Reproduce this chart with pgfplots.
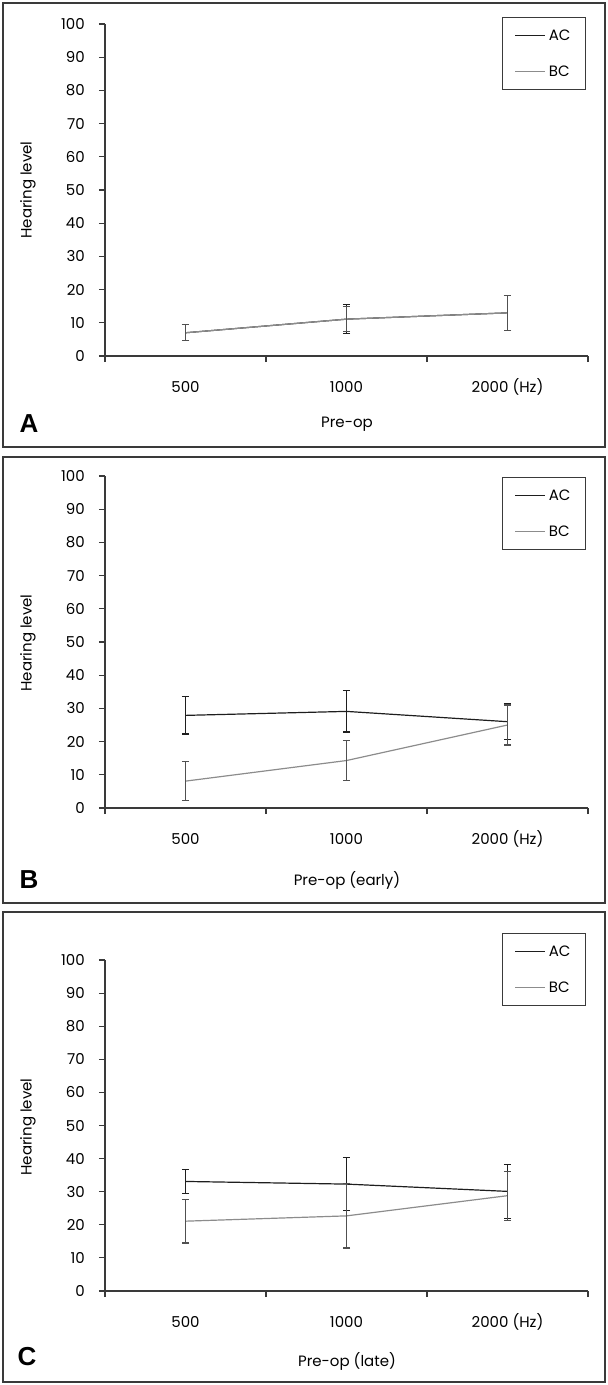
\documentclass[border=0pt]{standalone}
\usepackage{fontspec}
\setmainfont{Poppins}
\newfontfamily\letterfont{Liberation Sans}
\usepackage{pgfplots}
\pgfplotsset{compat=1.18}

\definecolor{acc}{HTML}{1E1E1E}
\definecolor{bcc}{HTML}{8C8C8C}
\definecolor{bce}{HTML}{505050}
\definecolor{axc}{HTML}{3A3A3A}
\newcommand\fs{\fontsize{15}{18}\selectfont}

\pgfplotsset{
  panel/.style={
    scale only axis, width=483pt,
    xmin=0, xmax=3, ymin=0, ymax=100,
    axis x line=bottom, axis y line=left,
    axis line style={-, axc, line width=1.2pt},
    tick align=outside, major tick length=6pt,
    tick style={axc, line width=1.1pt},
    ytick={0,10,...,100},
    xtick={0,1,2,3}, xticklabels={},
    extra x ticks={0.5,1.5,2.5},
    extra x tick labels={500,1000,2000 (Hz)},
    extra x tick style={major tick length=0pt, xticklabel style={anchor=center, yshift=-31pt}},
    ticklabel style={font=\fs},
    yticklabel style={anchor=east, inner sep=0pt, xshift=-14pt},
    /pgf/number format/assume math mode=true,
    clip=false,
    legend style={at={(1,1)}, anchor=north east, xshift=-2pt,
      draw=axc, line width=1pt, font=\fs,
      inner xsep=12pt, inner ysep=9pt, row sep=18pt,
      nodes={inner sep=3pt}},
    legend cell align=left,
    legend image code/.code={\draw[#1] (0pt,0pt) -- (30pt,0pt);},
  },
  acstyle/.style={acc, line width=1.2pt, mark=none,
    error bars/.cd, y dir=both, y explicit,
    error bar style={acc, line width=1.1pt},
    error mark options={rotate=90, mark size=3.6pt, acc, line width=1.2pt}},
  bcstyle/.style={bcc, line width=1.2pt, mark=none,
    error bars/.cd, y dir=both, y explicit,
    error bar style={bce, line width=1.1pt},
    error mark options={rotate=90, mark size=3.6pt, bce, line width=1.2pt}},
}

\begin{document}
\begin{tikzpicture}
\path[use as bounding box] (0,0) rectangle (608pt,-1385pt);

% panel frames
\draw[axc, line width=1.3pt] (3pt,-3pt) rectangle (605pt,-447pt);
\draw[axc, line width=1.3pt] (3pt,-457pt) rectangle (605pt,-903pt);
\draw[axc, line width=1.3pt] (3pt,-912pt) rectangle (605pt,-1382pt);

% A: Pre-op
\begin{axis}[panel, height=332pt, at={(105pt,-356pt)}, anchor=south west,
  legend style={yshift=7pt}]
\addplot[acstyle] coordinates {(0.5,7.0) +- (0,2.4) (1.5,11.1) +- (0,4.3) (2.5,13.0) +- (0,5.3)};
\addplot[bcstyle] coordinates {(0.5,7.0) +- (0,2.4) (1.5,11.1) +- (0,3.8) (2.5,13.0) +- (0,5.3)};
\legend{AC,BC}
\end{axis}

% B: Pre-op (early)
\begin{axis}[panel, height=332pt, at={(105pt,-808pt)}, anchor=south west,
  legend style={yshift=-1pt}]
\addplot[acstyle] coordinates {(0.5,27.9) +- (0,5.6) (1.5,29.1) +- (0,6.2) (2.5,26.0) +- (0,5.3)};
\addplot[bcstyle] coordinates {(0.5,8.1) +- (0,5.9) (1.5,14.3) +- (0,6.0) (2.5,25.0) +- (0,6.0)};
\legend{AC,BC}
\end{axis}

% C: Pre-op (late)
\begin{axis}[panel, height=331pt, at={(105pt,-1291pt)}, anchor=south west,
  legend style={yshift=27pt}]
\addplot[acstyle] coordinates {(0.5,33.1) +- (0,3.7) (1.5,32.3) +- (0,8.0) (2.5,30.1) +- (0,8.1)};
\addplot[bcstyle] coordinates {(0.5,21.1) +- (0,6.6) (1.5,22.7) +- (0,9.7) (2.5,28.8) +- (0,7.4)};
\legend{AC,BC}
\end{axis}

% axis titles and panel letters
\node[font=\fs, rotate=90] at (28pt,-190pt) {Hearing level};
\node[font=\fs, rotate=90] at (28pt,-643pt) {Hearing level};
\node[font=\fs, rotate=90] at (28pt,-1127pt) {Hearing level};
\node[font=\fs] at (347pt,-424pt) {Pre-op};
\node[font=\fs] at (347pt,-880pt) {Pre-op (early)};
\node[font=\fs] at (347pt,-1361pt) {Pre-op (late)};
\node[font=\letterfont\bfseries\fontsize{26}{30}\selectfont] at (29pt,-424pt) {A};
\node[font=\letterfont\bfseries\fontsize{26}{30}\selectfont] at (29pt,-880pt) {B};
\node[font=\letterfont\bfseries\fontsize{26}{30}\selectfont] at (27pt,-1357pt) {C};
\end{tikzpicture}
\end{document}
